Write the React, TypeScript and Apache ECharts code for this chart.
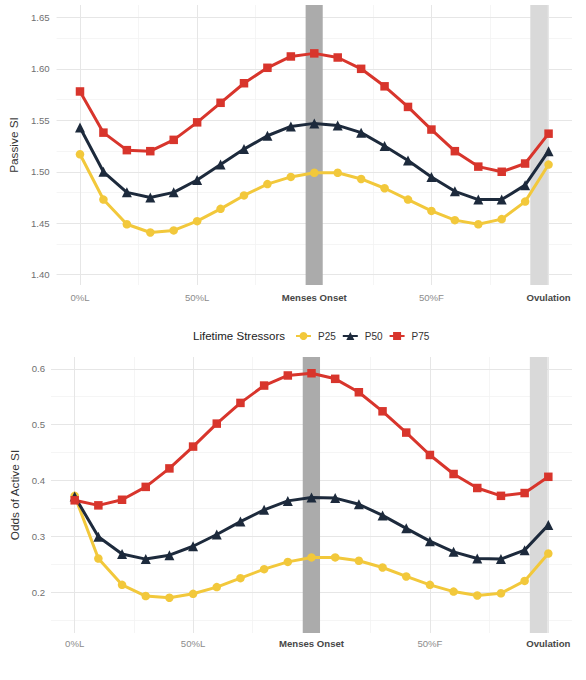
import React, { useEffect, useRef } from "react";
import * as echarts from "echarts";

const FONT = "Liberation Sans, Arial, sans-serif";

// x positions of the 21 cycle points (0%L ... Ovulation)
const cyclePoints = [0, 1, 2, 3, 4, 5, 6, 7, 8, 9, 10, 11, 12, 13, 14, 15, 16, 17, 18, 19, 20];
const tickPositions = [0, 5, 10, 15, 20];
const tickLabels = ["0%L", "50%L", "Menses Onset", "50%F", "Ovulation"];
const boldTicks = ["Menses Onset", "Ovulation"];
const minorXTicks = [2.5, 7.5, 12.5, 17.5];

const passiveTicks = [1.4, 1.45, 1.5, 1.55, 1.6, 1.65];
const passiveMinor = [1.425, 1.475, 1.525, 1.575, 1.625];
const oddsTicks = [0.2, 0.3, 0.4, 0.5, 0.6];
const oddsMinor = [0.15, 0.25, 0.35, 0.45, 0.55];

const seriesNames = ["P25", "P50", "P75"];

const passiveP25 = [1.517, 1.473, 1.449, 1.441, 1.443, 1.452, 1.464, 1.477, 1.488, 1.495, 1.499, 1.499, 1.493, 1.484, 1.473, 1.462, 1.453, 1.449, 1.454, 1.471, 1.507];
const passiveP50 = [1.543, 1.5, 1.48, 1.475, 1.48, 1.492, 1.507, 1.522, 1.535, 1.544, 1.547, 1.545, 1.538, 1.525, 1.511, 1.495, 1.481, 1.473, 1.473, 1.487, 1.52];
const passiveP75 = [1.578, 1.538, 1.521, 1.52, 1.531, 1.548, 1.567, 1.586, 1.601, 1.612, 1.615, 1.611, 1.6, 1.583, 1.563, 1.541, 1.52, 1.505, 1.5, 1.508, 1.537];

const oddsP25 = [0.373, 0.261, 0.214, 0.194, 0.191, 0.198, 0.21, 0.226, 0.242, 0.255, 0.263, 0.263, 0.257, 0.245, 0.229, 0.214, 0.202, 0.195, 0.199, 0.221, 0.27];
const oddsP50 = [0.372, 0.3, 0.269, 0.26, 0.267, 0.283, 0.304, 0.327, 0.348, 0.364, 0.37, 0.369, 0.358, 0.338, 0.315, 0.292, 0.273, 0.261, 0.26, 0.276, 0.321];
const oddsP75 = [0.365, 0.356, 0.366, 0.389, 0.422, 0.461, 0.502, 0.539, 0.57, 0.588, 0.592, 0.582, 0.558, 0.524, 0.486, 0.446, 0.412, 0.387, 0.373, 0.378, 0.407];

const mensesBand = [9.63, 10.36];
const ovulationBand = [19.22, 19.97];

const COLORS = ["#F2C83B", "#1D2A3C", "#D8352C"];
const SYMBOLS = ["circle", "triangle", "rect"];
const SIZES = [8.5, 10, 8.5];

function isTick(v: number, list: number[]) {
  return list.some((t) => Math.abs(t - v) < 1e-6);
}

function lineSeries(i: number, values: number[], axis: number) {
  return {
    type: "line",
    name: seriesNames[i],
    xAxisIndex: axis,
    yAxisIndex: axis,
    data: cyclePoints.map((x, k) => [x, values[k]]),
    symbol: SYMBOLS[i],
    symbolSize: SIZES[i],
    showAllSymbol: true,
    lineStyle: { color: COLORS[i], width: 3 },
    itemStyle: { color: COLORS[i] },
    emphasis: { disabled: true },
    z: 5,
  };
}

function gridSeries(axis: number, yMajor: number[], yMinor: number[]) {
  const major = { color: "#E6E6E6", width: 1, type: "solid" };
  const minor = { color: "#F2F2F2", width: 0.8, type: "solid" };
  return {
    type: "line",
    xAxisIndex: axis,
    yAxisIndex: axis,
    data: [],
    silent: true,
    z: 0,
    markLine: {
      silent: true,
      z: 0,
      symbol: ["none", "none"],
      label: { show: false },
      emphasis: { disabled: true },
      lineStyle: { type: "solid" },
      data: [
        ...minorXTicks.map((v) => ({ xAxis: v, lineStyle: minor })),
        ...yMinor.map((v) => ({ yAxis: v, lineStyle: minor })),
        ...tickPositions.map((v) => ({ xAxis: v, lineStyle: major })),
        ...yMajor.map((v) => ({ yAxis: v, lineStyle: major })),
      ],
    },
  };
}

function bandSeries(axis: number) {
  return {
    type: "line",
    xAxisIndex: axis,
    yAxisIndex: axis,
    data: [],
    silent: true,
    z: 1,
    markArea: {
      silent: true,
      z: 1,
      emphasis: { disabled: true },
      data: [
        [{ xAxis: mensesBand[0], itemStyle: { color: "#ABABAB" } }, { xAxis: mensesBand[1] }],
        [{ xAxis: ovulationBand[0], itemStyle: { color: "#D9D9D9" } }, { xAxis: ovulationBand[1] }],
      ],
    },
  };
}

function xAxisDef(grid: number, margin: number) {
  return {
    type: "value",
    gridIndex: grid,
    min: -1,
    max: 21,
    axisLine: { show: false },
    axisTick: { show: false },
    splitLine: { show: false },
    axisLabel: {
      customValues: tickPositions,
      margin,
      formatter: (v: number) => {
        const k = tickPositions.findIndex((t) => Math.abs(t - v) < 1e-6);
        if (k < 0) return "";
        const lab = tickLabels[k];
        return boldTicks.includes(lab) ? `{b|${lab}}` : `{n|${lab}}`;
      },
      rich: {
        b: { fontFamily: FONT, fontSize: 9.6, fontWeight: "bold", color: "#474747" },
        n: { fontFamily: FONT, fontSize: 9.6, color: "#8C8C8C" },
      },
    },
  };
}

function yAxisDef(grid: number, min: number, max: number, ticks: number[], digits: number, name: string, nameGap: number, margin: number) {
  return {
    type: "value",
    gridIndex: grid,
    min,
    max,
    name,
    nameLocation: "middle",
    nameGap,
    nameRotate: 90,
    nameTextStyle: { fontFamily: FONT, fontSize: 11.8, color: "#333333" },
    axisLine: { show: false },
    axisTick: { show: false },
    splitLine: { show: false },
    axisLabel: {
      customValues: ticks,
      margin,
      fontFamily: FONT,
      fontSize: 9.6,
      color: "#707070",
      formatter: (v: number) => (isTick(v, ticks) ? v.toFixed(digits) : ""),
    },
  };
}

export default function App() {
  const ref = useRef<HTMLDivElement>(null);
  useEffect(() => {
    if (!ref.current) return;
    const chart = echarts.init(ref.current, undefined, { renderer: "svg" });
    chart.setOption({
      animation: false,
      backgroundColor: "#FFFFFF",
      grid: [
        { left: 48, top: 5, width: 524, height: 280 },
        { left: 51, top: 357, width: 521, height: 276 },
      ],
      xAxis: [xAxisDef(0, 7), xAxisDef(1, 5)],
      yAxis: [
        yAxisDef(0, 1.39, 1.662, passiveTicks, 2, "Passive SI", 28, 7),
        yAxisDef(1, 0.128, 0.621, oddsTicks, 1, "Odds of Active SI", 22, 6),
      ],
      legend: {
        data: seriesNames,
        left: 295,
        top: 331,
        padding: 0,
        itemWidth: 15,
        itemHeight: 10,
        itemGap: 6,
        selectedMode: false,
        textStyle: { fontFamily: FONT, fontSize: 10, color: "#333333", padding: [0, 0, 0, 2] },
      },
      graphic: [
        {
          type: "text",
          x: 193,
          y: 336,
          silent: true,
          style: {
            text: "Lifetime Stressors",
            fontFamily: FONT,
            fontSize: 11.5,
            fill: "#222222",
            verticalAlign: "middle",
          },
        },
      ],
      series: [
        gridSeries(0, passiveTicks, passiveMinor),
        gridSeries(1, oddsTicks, oddsMinor),
        bandSeries(0),
        bandSeries(1),
        lineSeries(0, passiveP25, 0),
        lineSeries(1, passiveP50, 0),
        lineSeries(2, passiveP75, 0),
        lineSeries(0, oddsP25, 1),
        lineSeries(1, oddsP50, 1),
        lineSeries(2, oddsP75, 1),
      ],
    });
    return () => chart.dispose();
  }, []);
  return (
    <div
      ref={ref}
      style={{ position: "fixed", left: 0, top: 0, width: 586, height: 680, background: "#fff" }}
    />
  );
}
